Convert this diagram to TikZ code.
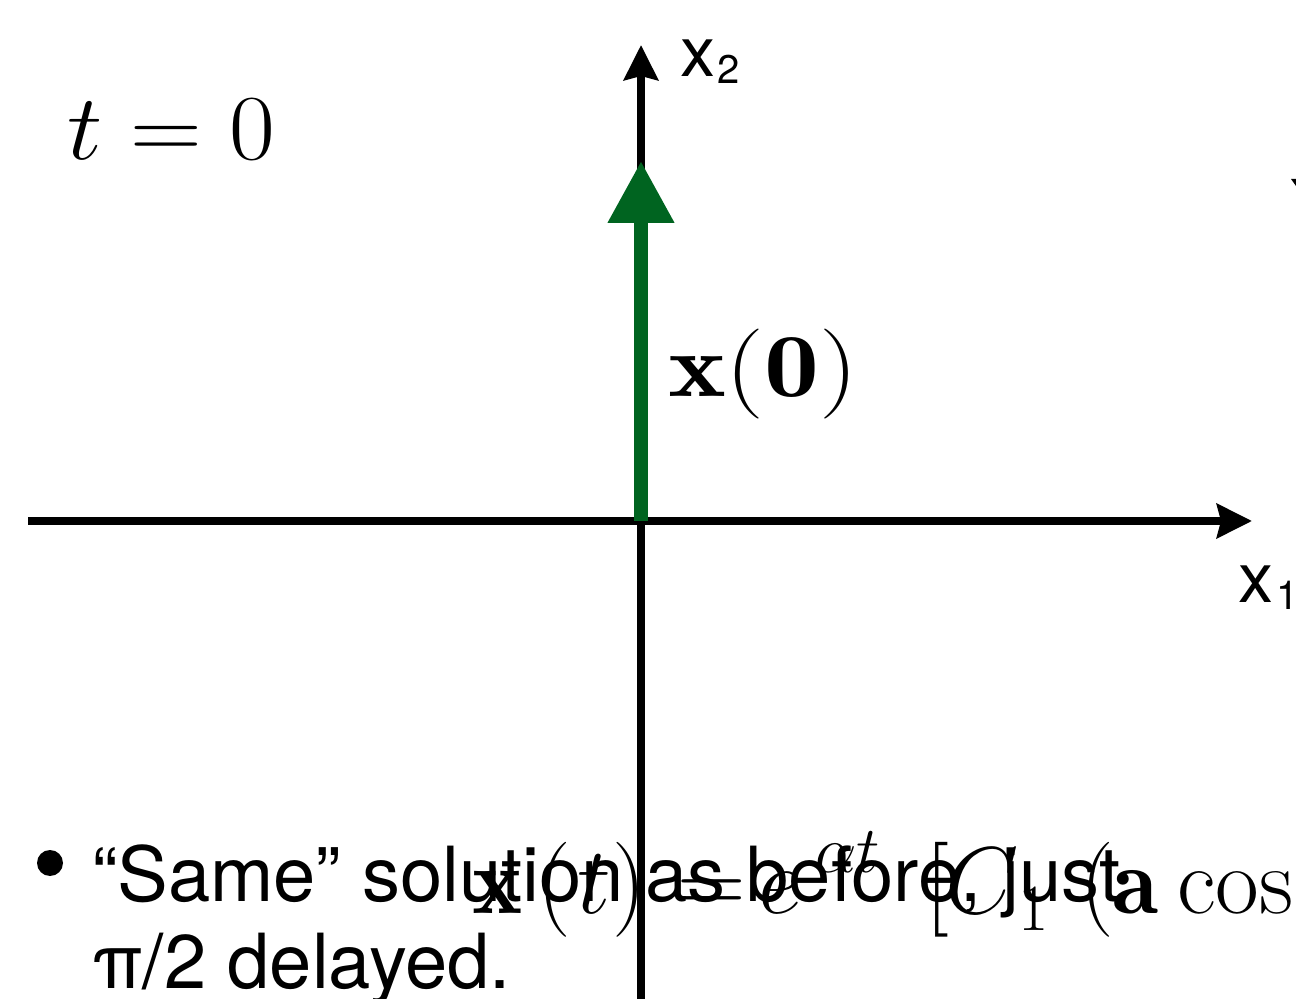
\RequirePackage{fix-cm}
\documentclass[tikz,border=0pt]{standalone}
\usepackage{fontspec}
\usepackage{graphicx}
\newfontfamily\helv{TeX Gyre Heros}
\usetikzlibrary{arrows.meta}
\definecolor{vecgreen}{RGB}{0,100,32}
\tikzset{
  axisline/.style={line width=4pt, -{Stealth[length=17.5pt,width=17pt,inset=2pt]}},
  vecline/.style={vecgreen, line width=7pt, -{Triangle[length=31pt,width=31.5pt]}},
  lbl/.style={anchor=base west, inner sep=0pt, outer sep=0pt},
  eqbig/.style={lbl, font=\fontsize{47.5}{57}\selectfont},
  eqsmall/.style={lbl, font=\fontsize{33}{40}\selectfont},
  sanstext/.style={lbl, font=\helv\fontsize{38}{46}\selectfont},
  axlbl/.style={lbl, font=\helv\fontsize{35}{42}\selectfont},
  axsub/.style={lbl, font=\helv\fontsize{20}{24}\selectfont},
}
\begin{document}
\begin{tikzpicture}[x=0.5pt,y=-0.5pt]
\useasboundingbox (0,0) rectangle (1296,999);
\clip (0,0) rectangle (1296,999);

% axes
\coordinate (hl) at (28,521);
\coordinate (hr) at (1252,521);
\coordinate (vb) at (641,1010);
\coordinate (vt) at (641,45);
\coordinate (O) at (641,521);
\coordinate (tip) at (641,161);
\draw[axisline] (hl) -- (hr);
\draw[axisline] (vb) -- (vt);
\draw[vecline] (O) -- (tip);

% axis labels
\node[axlbl] (x2) at (680,77) {x};
\node[axsub] (x2s) at (717,84) {2};
\node[axlbl] (x1) at (1238,603) {x};
\node[axsub] (x1s) at (1276,610) {1};

% t = 0
\node[lbl, font=\fontsize{46.5}{56}\selectfont] (tzero) at (68,160) {\scalebox{1.07}[1]{$t = 0$}};

% x(0)
\node[lbl, font=\fontsize{45}{54}\selectfont] (xzero) at (668,397) {\scalebox{1.22}[1]{$\mathbf{x}(\mathbf{0})$}};

% cut-off glyph fragment at right edge
\fill (1291,179) -- (1296,179) -- (1296,186) -- cycle;

% bullet text
\node[circle, fill, minimum size=13pt, inner sep=0pt] (bul) at (50,863) {};
\node[sanstext] (line1) at (92,901) {“Same” solution as before, just};
\node[sanstext] (line2) at (92,988) {π/2 delayed.};

% overlapping equation
\node[eqbig] (ex) at (472,913) {$\mathbf{x}$};
\node[eqbig] (elp) at (537,913) {$($};
\node[eqbig] (et) at (577,913) {$t$};
\node[eqbig] (erp) at (612,913) {$)$};
\node[eqbig] (eeq) at (677,913) {$=$};
\node[eqbig] (ee) at (758,913) {$e$};
\node[eqsmall] (esup) at (815,872) {$\alpha t$};
\node[eqbig] (ebr) at (925,913) {$[$};
\node[eqbig] (eC) at (945,913) {$C$};
\node[eqsmall] (esub) at (1018,930) {$1$};
\node[eqbig] (elp2) at (1080,913) {$($};
\node[eqbig] (ea) at (1112,913) {$\mathbf{a}$};
\node[eqbig] (ecos) at (1177,913) {$\cos$};
\end{tikzpicture}
\end{document}
